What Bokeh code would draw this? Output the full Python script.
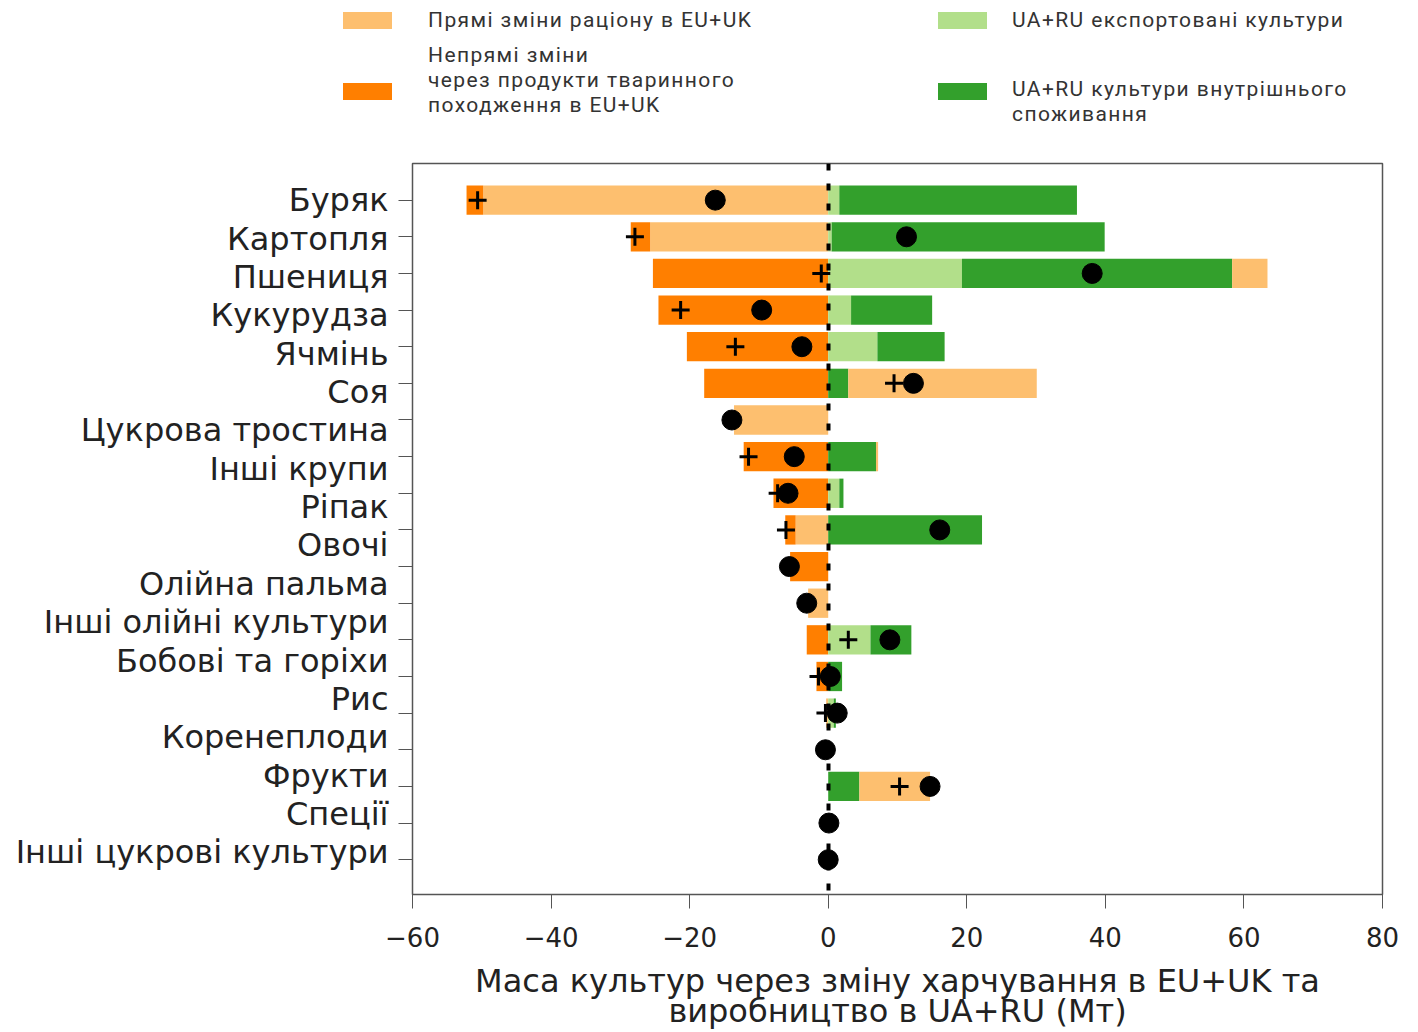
import numpy as np
from bokeh.plotting import figure
from bokeh.models import (Range1d, FixedTicker, LinearAxis, CustomJSTickFormatter,
                          CustomLabelingPolicy, Div)
from bokeh.layouts import column
from bokeh.embed import file_html
from bokeh.resources import INLINE

# ---------------- data ----------------
# tick labels as printed on the axis (top to bottom)
labels = ["Буряк", "Картопля", "Пшениця", "Кукурудза", "Ячмінь", "Соя",
          "Цукрова тростина", "Інші крупи", "Ріпак", "Овочі", "Олійна пальма",
          "Інші олійні культури", "Бобові та горіхи", "Рис", "Коренеплоди",
          "Фрукти", "Спеції", "Інші цукрові культури"]

# one value per bar row (19 rows drawn, top to bottom)
direct_eu   = [-49.8, -25.7, 5.1, 0.0, 0.0, 27.2, -13.6, 0.3, 0.0, -4.7, 0.0, -2.9, 0.0, 0.0, -0.3, 0.0, 10.2, 0.0, 0.0]
indirect_eu = [-2.4, -2.8, -25.3, -24.5, -20.4, -17.9, 0.0, -12.2, -7.9, -1.5, -5.5, 0.0, -3.1, -1.7, 0.0, 0.0, 0.0, 0.0, 0.0]
exported_ua = [1.6, 0.5, 19.3, 3.3, 7.1, 0.0, 0.0, 0.0, 1.6, 0.0, 0.0, 0.0, 6.1, 0.0, 0.8, 0.0, 0.0, 0.0, 0.0]
domestic_ua = [34.3, 39.4, 39.0, 11.7, 9.7, 2.9, 0.0, 6.9, 0.6, 22.2, 0.0, 0.0, 5.9, 2.0, 0.3, 0.0, 4.5, 0.0, 0.0]
plus_vals   = [-50.6, -27.9, -1.0, -21.3, -13.4, 9.5, np.nan, -11.5, -7.3, -6.1, np.nan, np.nan, 2.9, -1.4, -0.4, np.nan, 10.3, np.nan, np.nan]
dot_vals    = [-16.3, 11.3, 38.1, -9.6, -3.8, 12.3, -13.9, -4.9, -5.8, 16.1, -5.6, -3.1, 8.9, 0.3, 1.3, -0.4, 14.7, 0.1, 0.0]

x_ticks = [-60, -40, -20, 0, 20, 40, 60, 80]

series_names = ["Прямі зміни раціону в EU+UK",
                "Непрямі зміни\nчерез продукти тваринного\nпоходження в EU+UK",
                "UA+RU експортовані культури",
                "UA+RU культури внутрішнього\nспоживання"]
C_DIRECT, C_INDIRECT, C_EXPORT, C_DOMESTIC = "#fdbf6f", "#ff7f00", "#b2df8a", "#33a02c"
series_colors = [C_DIRECT, C_INDIRECT, C_EXPORT, C_DOMESTIC]

FONT = "DejaVu Sans"

# ---------------- stacking ----------------
n = len(dot_vals)
y = np.arange(n)
d = np.array(direct_eu); ind = np.array(indirect_eu)
ex = np.array(exported_ua); dom = np.array(domestic_ua)

d_neg = np.minimum(d, 0); d_pos = np.maximum(d, 0)
segments = [
    (d_neg, np.zeros(n), C_DIRECT),          # direct (negative) from 0
    (d_neg + ind, d_neg, C_INDIRECT),        # indirect beyond it
    (np.zeros(n), ex, C_EXPORT),             # exported from 0
    (ex, ex + dom, C_DOMESTIC),              # domestic
    (ex + dom, ex + dom + d_pos, C_DIRECT),  # direct (positive)
]

# ---------------- main figure ----------------
W = 1402
p = figure(width=W, height=882, output_backend="svg", toolbar_location=None,
           x_range=Range1d(-60, 80), y_range=Range1d(n - 0.05, -1.0),
           min_border_left=412, min_border_right=20, min_border_top=13,
           min_border_bottom=137)
p.xgrid.visible = False
p.ygrid.visible = False
p.outline_line_color = "#555555"
p.outline_line_width = 1.5
p.background_fill_color = "white"
p.border_fill_color = "white"

bh = 0.8
for l, r, c in segments:
    p.hbar(y=y, left=l, right=r, height=bh, fill_color=c, line_color=None)

# zero reference line
p.vspan(x=[0], line_color="black", line_width=4, line_dash="7 13")

p.scatter(x=plus_vals, y=y, marker="cross", size=18, line_width=3, line_color="black")
p.scatter(x=dot_vals, y=y, marker="circle", size=20, fill_color="black", line_color="black")

# x axis
xa = p.xaxis[0]
xa.ticker = FixedTicker(ticks=x_ticks)
xa.formatter = CustomJSTickFormatter(code="return tick < 0 ? '\u2212' + Math.abs(tick) : String(tick);")
xa.major_tick_out = 14
xa.major_tick_in = 0
xa.minor_tick_line_color = None
xa.major_tick_line_color = "#555555"
xa.axis_line_color = "#555555"
xa.major_label_text_font = FONT
xa.major_label_text_font_size = "26px"
xa.major_label_text_color = "#222222"
xa.major_label_standoff = 18
xa.axis_label = "Маса культур через зміну харчування в EU+UK та\nвиробництво в UA+RU (Мт)"
xa.axis_label_text_font = FONT
xa.axis_label_text_font_size = "32px"
xa.axis_label_text_font_style = "normal"
xa.axis_label_text_color = "#222222"
xa.axis_label_text_line_height = 0.8
xa.axis_label_standoff = 12

# y axis: tick marks at bar rows, no labels
ya = p.yaxis[0]
ya.ticker = FixedTicker(ticks=list(range(n)))
ya.major_label_policy = CustomLabelingPolicy(
    code="const all = [...indices]; for (const i of all) indices.unset(i); return indices;")
ya.major_label_text_font_size = "1px"
ya.major_label_standoff = 0
ya.major_tick_out = 14
ya.major_tick_in = 0
ya.minor_tick_line_color = None
ya.major_tick_line_color = "#555555"
ya.axis_line_color = "#555555"

# y label axis: category names
step = (n - 1.2) / (len(labels) - 1)
lab_axis = LinearAxis(ticker=FixedTicker(ticks=[i * step for i in range(len(labels))]),
                      formatter=CustomJSTickFormatter(args=dict(labels=labels, step=step),
                                                      code="const i = Math.round(tick / step); return labels[i] || '';"))
lab_axis.axis_line_color = None
lab_axis.major_tick_line_color = None
lab_axis.minor_tick_line_color = None
lab_axis.major_tick_out = 0
lab_axis.major_label_standoff = 6
lab_axis.major_label_text_font = FONT
lab_axis.major_label_text_font_size = "32px"
lab_axis.major_label_text_color = "#222222"
p.add_layout(lab_axis, "left")

# ---------------- legend (HTML) ----------------
sw_x = [343, 343, 938, 938]
sw_y = [12, 83, 12, 83]
tx_x = [428, 428, 1012, 1012]
tx_y = [8, 43, 8, 77]
parts = []
for name, col, sx, sy, tx, ty in zip(series_names, series_colors, sw_x, sw_y, tx_x, tx_y):
    parts.append(f'<div style="position:absolute;left:{sx}px;top:{sy}px;width:49px;height:17px;background:{col};"></div>')
    parts.append(f'<div style="position:absolute;left:{tx}px;top:{ty}px;white-space:nowrap;">'
                 + name.replace("\n", "<br>") + '</div>')
html = ('<div style="position:relative;width:%dpx;height:150px;font-family:Roboto,sans-serif;'
        'font-size:21px;letter-spacing:1.4px;line-height:25px;color:#333333;">' % W
        + "".join(parts) + "</div>")
legend = Div(text=html, width=W, height=150, margin=0)

layout = column(legend, p, spacing=0)
open("out.html", "w").write(file_html(layout, INLINE))
